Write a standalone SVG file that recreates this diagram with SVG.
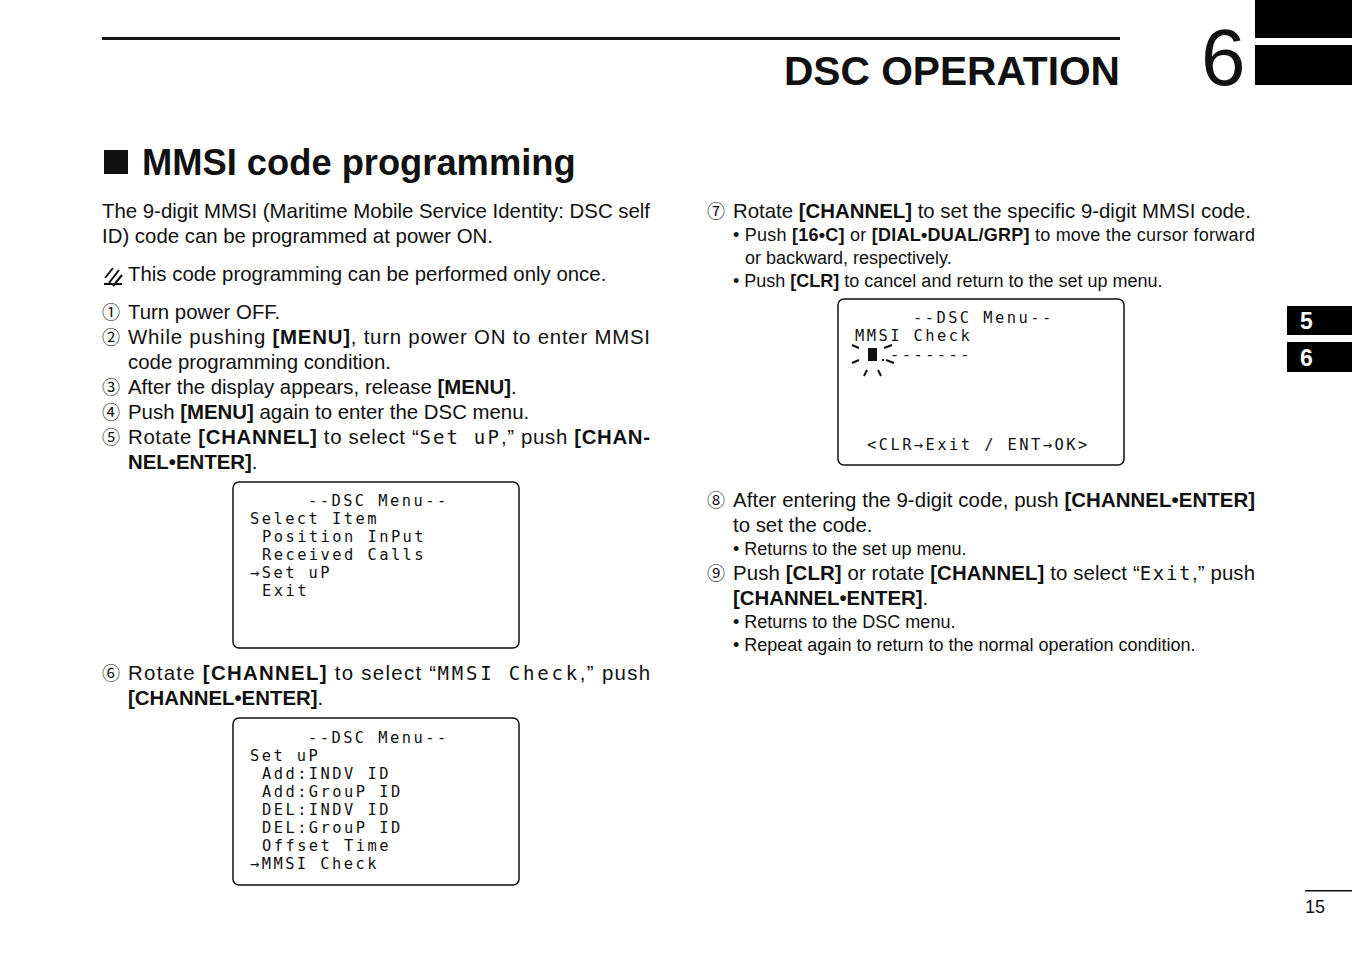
<svg xmlns="http://www.w3.org/2000/svg" width="1352" height="954" viewBox="0 0 1352 954">
<style>
text{font-family:"Liberation Sans",Arial,sans-serif;fill:#111}
.t{font-size:20.4px}
.s{font-size:18px}
.b{font-weight:bold}
.n{font-family:"Noto Sans CJK JP","DejaVu Sans",sans-serif;font-size:18px}
.lcd{font-family:"DejaVu Sans Mono","Liberation Mono",monospace;font-size:15.4px;letter-spacing:2.45px}
.il{font-family:"DejaVu Sans Mono","Liberation Mono",monospace;font-size:19px;letter-spacing:1.5px}
.box{fill:#fff;stroke:#111;stroke-width:1.5}
.tab{fill:#fff;font-weight:bold;font-size:23px}
</style>
<rect width="1352" height="954" fill="#fff"/>
<g id="header">
<rect x="102" y="37" width="1018" height="3" fill="#111"/>
<text x="1120" y="85" text-anchor="end" class="b" style="font-size:40.7px">DSC OPERATION</text>
<text x="1201" y="85" style="font-size:80px">6</text>
<rect x="1255" y="0" width="97" height="38" fill="#000"/>
<rect x="1255" y="45" width="97" height="40" fill="#000"/>
</g>
<g id="title">
<rect x="104" y="150" width="24" height="24" fill="#111"/>
<text x="142" y="175" class="b" style="font-size:36.3px">MMSI code programming</text>
</g>
<g id="left-column">
<text x="102" y="218" class="t" textLength="548" lengthAdjust="spacing">The 9-digit MMSI (Maritime Mobile Service Identity: DSC self</text>
<text x="102" y="243" class="t">ID) code can be programmed at power ON.</text>
<path d="M105,278 L113,268 M109,283 L119,270 M113,286 L122,275 M104,284 L122,284" stroke="#111" stroke-width="2" fill="none"/>
<text x="128" y="281" class="t">This code programming can be performed only once.</text>
<text x="102" y="319" class="n">①</text>
<text x="128" y="319" class="t">Turn power OFF.</text>
<text x="102" y="344" class="n">②</text>
<text x="128" y="344" class="t" textLength="522" lengthAdjust="spacing">While pushing <tspan class="b">[MENU]</tspan>, turn power ON to enter MMSI</text>
<text x="128" y="369" class="t">code programming condition.</text>
<text x="102" y="394" class="n">③</text>
<text x="128" y="394" class="t">After the display appears, release <tspan class="b">[MENU]</tspan>.</text>
<text x="102" y="419" class="n">④</text>
<text x="128" y="419" class="t">Push <tspan class="b">[MENU]</tspan> again to enter the DSC menu.</text>
<text x="102" y="444" class="n">⑤</text>
<text x="128" y="444" class="t" textLength="522" lengthAdjust="spacing">Rotate <tspan class="b">[CHANNEL]</tspan> to select “<tspan class="il">Set uP</tspan>,” push <tspan class="b">[CHAN-</tspan></text>
<text x="128" y="469" class="t"><tspan class="b">NEL•ENTER]</tspan>.</text>
<text x="102" y="680" class="n">⑥</text>
<text x="128" y="680" class="t" textLength="522" lengthAdjust="spacing">Rotate <tspan class="b">[CHANNEL]</tspan> to select “<tspan class="il">MMSI Check</tspan>,” push</text>
<text x="128" y="705" class="t"><tspan class="b">[CHANNEL•ENTER]</tspan>.</text>
</g>
<g id="lcd-1">
<rect x="233" y="482" width="286" height="166" rx="6" class="box"/>
<text x="308" y="506" class="lcd">--DSC Menu--</text>
<text x="250" y="524" class="lcd">Select Item</text>
<text x="262" y="542" class="lcd">Position InPut</text>
<text x="262" y="560" class="lcd">Received Calls</text>
<text x="250" y="578" class="lcd">→Set uP</text>
<text x="262" y="596" class="lcd">Exit</text>
</g>
<g id="lcd-2">
<rect x="233" y="718" width="286" height="167" rx="6" class="box"/>
<text x="308" y="743" class="lcd">--DSC Menu--</text>
<text x="250" y="761" class="lcd">Set uP</text>
<text x="262" y="779" class="lcd">Add:INDV ID</text>
<text x="262" y="797" class="lcd">Add:GrouP ID</text>
<text x="262" y="815" class="lcd">DEL:INDV ID</text>
<text x="262" y="833" class="lcd">DEL:GrouP ID</text>
<text x="262" y="851" class="lcd">Offset Time</text>
<text x="250" y="869" class="lcd">→MMSI Check</text>
</g>
<g id="right-column">
<text x="707" y="218" class="n">⑦</text>
<text x="733" y="218" class="t">Rotate <tspan class="b">[CHANNEL]</tspan> to set the specific 9-digit MMSI code.</text>
<text x="733" y="241" class="s" textLength="522" lengthAdjust="spacing">• Push <tspan class="b">[16•C]</tspan> or <tspan class="b">[DIAL•DUAL/GRP]</tspan> to move the cursor forward</text>
<text x="745" y="264" class="s">or backward, respectively.</text>
<text x="733" y="287" class="s">• Push <tspan class="b">[CLR]</tspan> to cancel and return to the set up menu.</text>
<text x="707" y="507" class="n">⑧</text>
<text x="733" y="507" class="t" textLength="522" lengthAdjust="spacing">After entering the 9-digit code, push <tspan class="b">[CHANNEL•ENTER]</tspan></text>
<text x="733" y="532" class="t">to set the code.</text>
<text x="733" y="555" class="s">• Returns to the set up menu.</text>
<text x="707" y="580" class="n">⑨</text>
<text x="733" y="580" class="t" textLength="522" lengthAdjust="spacing">Push <tspan class="b">[CLR]</tspan> or rotate <tspan class="b">[CHANNEL]</tspan> to select “<tspan class="il">Exit</tspan>,” push</text>
<text x="733" y="605" class="t"><tspan class="b">[CHANNEL•ENTER]</tspan>.</text>
<text x="733" y="628" class="s">• Returns to the DSC menu.</text>
<text x="733" y="651" class="s">• Repeat again to return to the normal operation condition.</text>
</g>
<g id="lcd-3">
<rect x="838" y="299" width="286" height="166" rx="6" class="box"/>
<text x="913" y="323" class="lcd">--DSC Menu--</text>
<text x="855" y="341" class="lcd">MMSI Check</text>
<rect x="868" y="348" width="9" height="13" fill="#111"/>
<rect x="882" y="359" width="2" height="2" fill="#111"/>
<text x="890" y="360" class="lcd">-------</text>
<path d="M852,345 L859,348 M884,348 L892,345 M852,363 L859,360 M886,360 L894,363 M864,376 L867,370 M878,370 L881,376" stroke="#111" stroke-width="2" fill="none"/>
<text x="867" y="450" class="lcd">&lt;CLR→Exit / ENT→OK&gt;</text>
</g>
<g id="tabs">
<rect x="1287" y="306" width="65" height="29" fill="#000"/>
<text x="1300" y="329" class="tab">5</text>
<rect x="1287" y="342" width="65" height="30" fill="#000"/>
<text x="1300" y="366" class="tab">6</text>
</g>
<g id="page-number">
<rect x="1305" y="890" width="47" height="1.5" fill="#111"/>
<text x="1305" y="913" style="font-size:18px">15</text>
</g>
</svg>
